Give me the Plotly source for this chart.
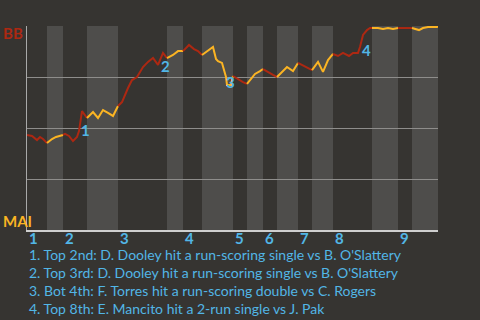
import plotly.graph_objects as go

# ---- data ----
teams = ["BB", "MAI"]  # top = BB (visitor), bottom = MAI (home)
innings = ["1", "2", "3", "4", "5", "6", "7", "8", "9"]
# game progress at each half-inning boundary (top1 start, bot1 start, top2 start, ...)
half_edges = [0, 20, 36, 60, 91, 140, 156, 175, 206, 220, 236, 250, 271, 285, 306, 345, 371, 385, 411]

progress = [0, 5, 10, 13, 16, 20,
            25, 29, 36,
            38, 42, 46, 50, 52, 55, 60,
            66, 71, 76, 81, 86, 91,
            95, 101, 105, 110, 116, 121, 126, 131, 136, 140,
            146, 151, 156,
            162, 167, 171, 175,
            181, 186, 189, 191, 195, 197, 199, 200, 204, 206,
            212, 216, 220,
            224, 228, 233, 236,
            242, 246, 250,
            255, 260, 266, 271,
            277, 281, 285,
            291, 296, 301, 306,
            311, 316, 322, 326, 331, 333, 336, 340, 343, 345,
            351, 356, 361, 366, 371,
            385,
            388, 392, 396, 401, 410, 411]
bb_win_pct = [46.6, 46.1, 44.1, 45.6, 44.6, 42.6,
              44.6, 45.6, 46.6,
              47.1, 46.1, 43.6, 45.6, 48.5, 58.3, 54.9,
              57.8, 54.9, 58.8, 57.4, 55.9, 60.8,
              62.7, 69.6, 73.5, 75.0, 79.9, 82.4, 84.3, 80.9, 86.8, 84.3,
              85.8, 87.7, 87.7,
              90.7, 88.7, 87.7, 85.8,
              87.7, 89.7, 83.8, 82.8, 81.9, 78.4, 75.0, 71.1, 71.1, 75.5,
              73.5, 72.5, 71.6,
              74.0, 76.5, 77.9, 78.9,
              77.0, 76.0, 75.0,
              77.5, 79.9, 77.9, 81.9,
              80.4, 79.4, 78.4,
              82.4, 77.5, 83.3, 86.3,
              85.3, 86.8, 85.3, 86.8, 86.8, 89.7, 95.6, 98.0, 99.0, 99.0,
              99.0, 98.5, 99.0, 98.5, 99.0,
              99.0,
              98.5, 98.0, 99.0, 99.5, 99.5, 100.0]

notes = [
    "1. Top 2nd: D. Dooley hit a run-scoring single vs B. O'Slattery",
    "2. Top 3rd: D. Dooley hit a run-scoring single vs B. O'Slattery",
    "3. Bot 4th: F. Torres hit a run-scoring double vs C. Rogers",
    "4. Top 8th: E. Mancito hit a 2-run single vs J. Pak",
]
note_marks = ["1", "2", "3", "4"]
note_x = [58, 138, 203, 339]
note_y = [49.0, 80.4, 72.5, 88.2]

# ---- style ----
BG = "#363431"
BAND = "#4e4d4b"
RED = "#ad2812"
YEL = "#fbb423"
BLUE = "#52b6e6"
FONT = "Lato"

W, H = 480, 320
L, R, T, B = 27, 42, 26, 90
PH = H - T - B


def py(p):
    return (H - B - p) / PH


fig = go.Figure()

# line segments per half inning
for i in range(len(half_edges) - 1):
    a, b = half_edges[i], half_edges[i + 1]
    xs = [x for x in progress if a <= x <= b]
    ys = [v for x, v in zip(progress, bb_win_pct) if a <= x <= b]
    fig.add_trace(go.Scatter(x=xs, y=ys, mode="lines",
                             line=dict(color=RED if i % 2 == 0 else YEL, width=2),
                             hoverinfo="skip", showlegend=False))

shapes = []
for i in range(1, len(half_edges) - 1, 2):
    shapes.append(dict(type="rect", xref="x", yref="paper", x0=half_edges[i], x1=half_edges[i + 1],
                       y0=0, y1=1, fillcolor=BAND, line_width=0, layer="below"))

annotations = []
for m, x, y in zip(note_marks, note_x, note_y):
    annotations.append(dict(x=x, y=y, xref="x", yref="y", text=f"<b>{m}</b>", showarrow=False,
                            font=dict(family=FONT, size=15, color=BLUE)))
for k, inn in enumerate(innings):
    annotations.append(dict(x=half_edges[2 * k], y=py(238), xref="x", yref="paper", text=f"<b>{inn}</b>",
                            showarrow=False, xanchor="left", yanchor="middle",
                            font=dict(family=FONT, size=15, color=BLUE)))
annotations.append(dict(x=-26 / (W - L - R), y=py(33), xref="paper", yref="paper", text=f"<b>{teams[0]}</b>",
                        showarrow=False, xanchor="left", yanchor="middle",
                        font=dict(family=FONT, size=15, color=RED)))
annotations.append(dict(x=-26 / (W - L - R), y=py(221), xref="paper", yref="paper", text=f"<b>{teams[1]}</b>",
                        showarrow=False, xanchor="left", yanchor="middle",
                        font=dict(family=FONT, size=15, color=YEL)))
for k, n in enumerate(notes):
    annotations.append(dict(x=0, y=py(254 + 18 * k), xref="paper", yref="paper", text=n,
                            showarrow=False, xanchor="left", yanchor="middle",
                            font=dict(family=FONT, size=14, color=BLUE)))

fig.update_layout(
    width=W, height=H,
    margin=dict(l=L, r=R, t=T, b=B),
    paper_bgcolor=BG, plot_bgcolor=BG,
    shapes=shapes, annotations=annotations,
    xaxis=dict(range=[half_edges[0], half_edges[-1]], showgrid=False, zeroline=False,
               showticklabels=False, showline=True, linecolor="#cfcfcf", linewidth=2),
    yaxis=dict(range=[0, 100], tickvals=[25, 50, 75, 100], showgrid=True, gridcolor="#8e8d8b", gridwidth=1,
               zeroline=False, showticklabels=False, showline=True, linecolor="#a9a9a9", linewidth=1),
)

fig.write_html("out.html")
